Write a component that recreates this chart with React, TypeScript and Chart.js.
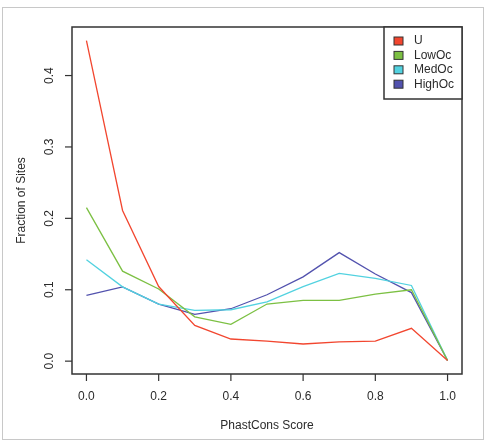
import React, { useEffect, useRef } from "react";
import { Chart, registerables } from "chart.js";

Chart.register(...registerables);

const scores = [0, 0.1, 0.2, 0.3, 0.4, 0.5, 0.6, 0.7, 0.8, 0.9, 1.0];
const uValues = [0.449, 0.211, 0.1045, 0.05, 0.031, 0.028, 0.024, 0.027, 0.028, 0.046, 0.001];
const lowOcValues = [0.215, 0.126, 0.101, 0.062, 0.0516, 0.08, 0.085, 0.085, 0.094, 0.1, 0.001];
const medOcValues = [0.142, 0.104, 0.08, 0.071, 0.072, 0.083, 0.1045, 0.123, 0.116, 0.106, 0.001];
const highOcValues = [0.092, 0.104, 0.08, 0.0655, 0.0734, 0.093, 0.118, 0.152, 0.122, 0.096, 0.001];
const seriesNames = ["U", "LowOc", "MedOc", "HighOc"];
const seriesColors = ["#f2462f", "#7cc043", "#52d2e0", "#5252ae"];
const xTickValues = [0, 0.2, 0.4, 0.6, 0.8, 1.0];
const yTickValues = [0, 0.1, 0.2, 0.3, 0.4];
const xTitle = "PhastCons Score";
const yTitle = "Fraction of Sites";

const FONT = '12px "Liberation Sans", Arial, sans-serif';
const TEXT = "#2b2b2b";

const decorPlugin = {
  id: "rdecor",
  beforeDraw(chart: any) {
    const ctx = chart.ctx;
    ctx.save();
    ctx.fillStyle = "#ffffff";
    ctx.fillRect(0, 0, chart.width, chart.height);
    ctx.strokeStyle = "#c8c8c8";
    ctx.lineWidth = 1;
    ctx.strokeRect(2.5, 7.5, 481, 432);
    ctx.restore();
  },
  afterDraw(chart: any) {
    const ctx = chart.ctx;
    const a = chart.chartArea;
    const xs = chart.scales.x;
    const ys = chart.scales.y;
    ctx.save();
    // box
    ctx.strokeStyle = "#333333";
    ctx.lineWidth = 1.5;
    ctx.strokeRect(a.left, a.top, a.right - a.left, a.bottom - a.top);
    // ticks
    ctx.lineWidth = 1.2;
    ctx.font = FONT;
    ctx.fillStyle = TEXT;
    ctx.textAlign = "center";
    ctx.textBaseline = "middle";
    xTickValues.forEach((v) => {
      const px = xs.getPixelForValue(v);
      ctx.beginPath();
      ctx.moveTo(px, a.bottom);
      ctx.lineTo(px, a.bottom + 7);
      ctx.stroke();
      ctx.fillText(v.toFixed(1), px, a.bottom + 23);
    });
    yTickValues.forEach((v) => {
      const py = ys.getPixelForValue(v);
      ctx.beginPath();
      ctx.moveTo(a.left, py);
      ctx.lineTo(a.left - 7, py);
      ctx.stroke();
      ctx.save();
      ctx.translate(a.left - 22, py);
      ctx.rotate(-Math.PI / 2);
      ctx.fillText(v.toFixed(1), 0, 0);
      ctx.restore();
    });
    // titles
    ctx.fillText(xTitle, (a.left + a.right) / 2, 426);
    ctx.save();
    ctx.translate(22, (a.top + a.bottom) / 2);
    ctx.rotate(-Math.PI / 2);
    ctx.fillText(yTitle, 0, 0);
    ctx.restore();
    // legend
    const lx = a.right - 78;
    const ly = a.top;
    ctx.fillStyle = "#ffffff";
    ctx.fillRect(lx, ly, 78, 72);
    ctx.strokeStyle = "#333333";
    ctx.lineWidth = 1.5;
    ctx.strokeRect(lx, ly, 78, 72);
    ctx.textAlign = "left";
    seriesNames.forEach((name, i) => {
      const cy = ly + 14 + i * 14.4;
      ctx.fillStyle = seriesColors[i];
      ctx.fillRect(lx + 10, cy - 4, 9, 8);
      ctx.strokeStyle = "#333333";
      ctx.lineWidth = 1;
      ctx.strokeRect(lx + 10, cy - 4, 9, 8);
      ctx.fillStyle = TEXT;
      ctx.fillText(name, lx + 30, cy);
    });
    ctx.restore();
  },
};

export default function App() {
  const ref = useRef<HTMLCanvasElement | null>(null);
  useEffect(() => {
    document.body.style.margin = "0";
    const values = [uValues, lowOcValues, medOcValues, highOcValues];
    const chart = new Chart(ref.current as HTMLCanvasElement, {
      type: "line",
      data: {
        datasets: values.map((vals, i) => ({
          label: seriesNames[i],
          data: scores.map((s, j) => ({ x: s, y: vals[j] })),
          borderColor: seriesColors[i],
          borderWidth: 1.3,
          pointRadius: 0,
          tension: 0,
          fill: false,
        })),
      },
      options: {
        animation: false,
        responsive: false,
        maintainAspectRatio: false,
        layout: { padding: { left: 72, top: 27, right: 26, bottom: 68 } },
        plugins: { legend: { display: false }, tooltip: { enabled: false } },
        scales: {
          x: { type: "linear", min: -0.04, max: 1.04, display: false },
          y: { type: "linear", min: -0.018, max: 0.468, display: false },
        },
      },
      plugins: [decorPlugin],
    });
    return () => chart.destroy();
  }, []);
  return (
    <div style={{ width: 488, height: 442 }}>
      <canvas ref={ref} width={488} height={442} style={{ display: "block" }} />
    </div>
  );
}
